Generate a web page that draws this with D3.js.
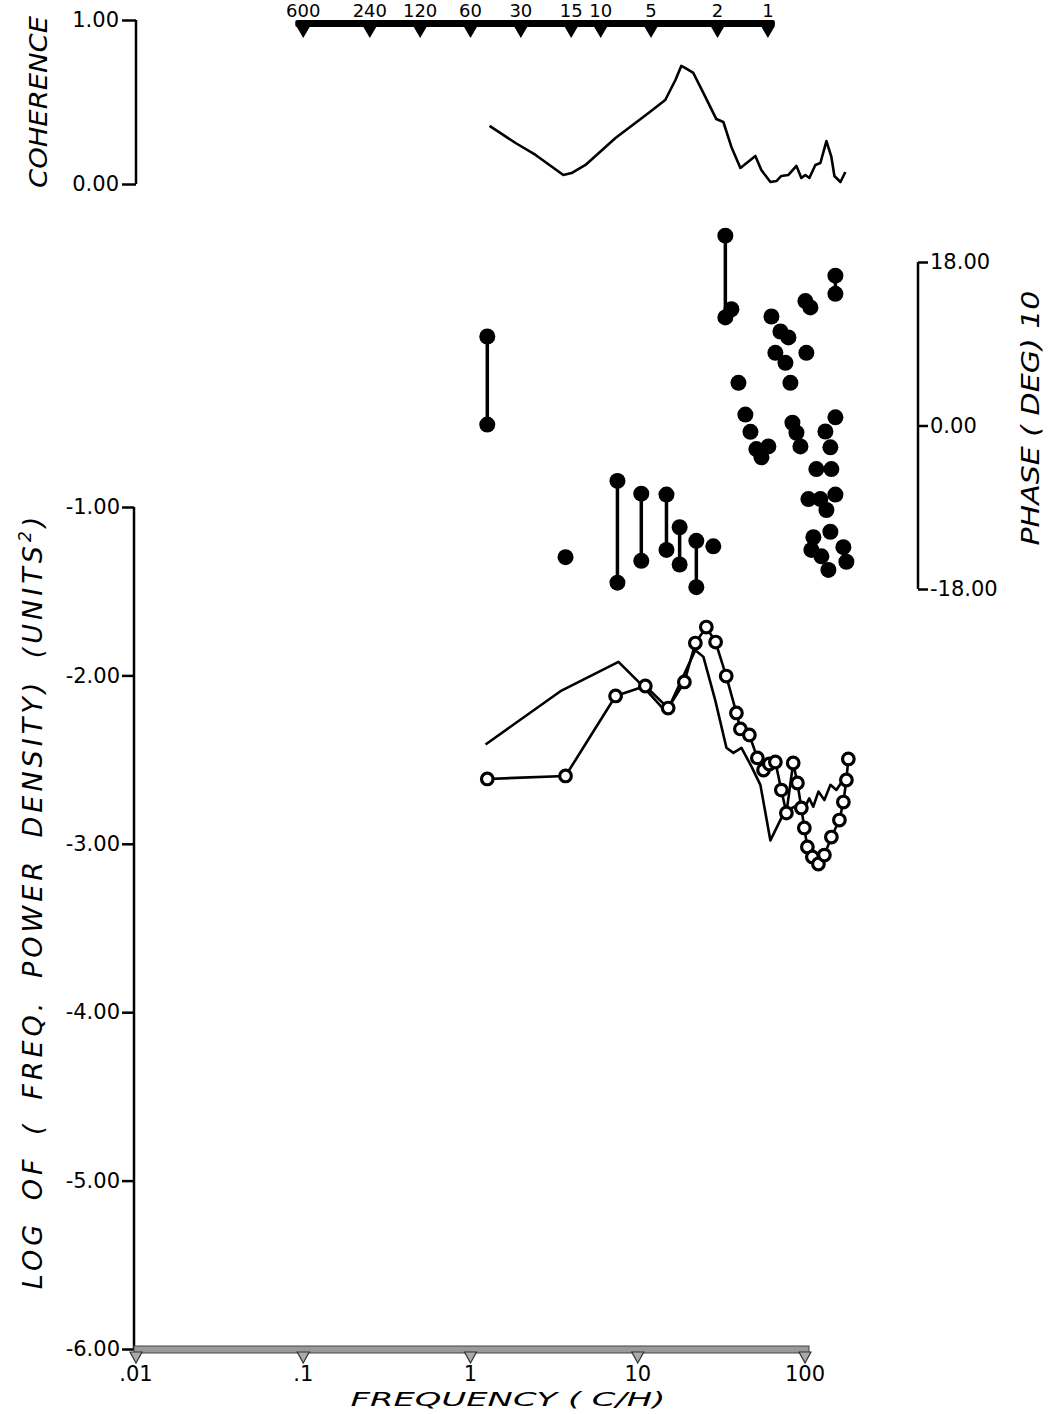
<!DOCTYPE html>
<html>
<head>
<meta charset="utf-8">
<script src="https://cdn.jsdelivr.net/npm/d3@7"></script>
<style>
  body { margin: 0; background: #fff; }
  text { font-family: "DejaVu Sans", sans-serif; fill: #000; }
  .title { font-style: italic; font-size: 25px; }
  .tick-label { font-size: 21px; }
</style>
</head>
<body>
<svg id="chart" width="1049" height="1414"></svg>
<script>
// coherence curve
const cohFreq = [1.30, 1.86, 2.45, 3.59, 4.02, 4.87, 7.36, 11.6, 14.6, 16.8, 18.2, 19.3, 21.5, 25.4, 29.5, 32.5, 36.3, 41.1, 50.5, 54.8, 62.1, 67.5, 72.2, 79.6, 88.9, 95.1, 100.5, 106.2, 115.3, 123.6, 134.3, 143.8, 149.9, 162.9, 174.3];
const cohVal = [0.354, 0.250, 0.177, 0.055, 0.067, 0.116, 0.280, 0.433, 0.512, 0.634, 0.720, 0.707, 0.677, 0.530, 0.396, 0.378, 0.226, 0.098, 0.171, 0.085, 0.012, 0.018, 0.049, 0.055, 0.110, 0.037, 0.055, 0.037, 0.116, 0.128, 0.262, 0.165, 0.049, 0.012, 0.073];

// power spectrum, plain line
const powAFreq = [1.23, 3.50, 7.67, 10.4, 14.85, 18.2, 22.1, 24.7, 29.1, 33.9, 37.3, 41.7, 47.8, 54.1, 62.1, 75.3, 86.4, 99.1, 106.0, 112.0, 120.3, 130.6, 141.8, 154.0, 174.3];
const powAVal = [-2.41, -2.09, -1.92, -2.05, -2.22, -2.03, -1.85, -1.89, -2.15, -2.43, -2.46, -2.43, -2.54, -2.65, -2.98, -2.81, -2.78, -2.79, -2.73, -2.78, -2.69, -2.74, -2.65, -2.68, -2.60];

// power spectrum, line with open circles
const powBFreq = [1.26, 3.70, 7.37, 11.1, 15.2, 19.0, 22.1, 25.7, 29.2, 33.8, 38.9, 41.1, 46.5, 51.9, 56.5, 61.2, 66.5, 72.2, 77.4, 85.0, 90.1, 95.1, 99.1, 103.3, 110.7, 120.3, 130.6, 143.8, 160.6, 169.6, 176.8, 181.6];
const powBVal = [-2.615, -2.597, -2.122, -2.063, -2.194, -2.039, -1.808, -1.713, -1.802, -2.004, -2.223, -2.318, -2.354, -2.490, -2.562, -2.526, -2.514, -2.681, -2.817, -2.520, -2.639, -2.787, -2.906, -3.019, -3.078, -3.120, -3.067, -2.960, -2.859, -2.752, -2.621, -2.496];

// phase: pairs joined by a bar
const pairFreq = [1.26, 7.56, 10.5, 14.85, 17.8, 22.4, 33.4, 152];
const pairHi = [9.8, -6.1, -7.5, -7.6, -11.2, -12.7, 20.9, 16.5];
const pairLo = [0.1, -17.3, -14.9, -13.7, -15.3, -17.8, 11.9, 14.5];

// phase: single dots
const phaseFreq = [3.70, 28.3, 36.3, 40.0, 44.0, 47.2, 51.2, 54.9, 60.4, 63.0, 66.5, 71.3, 76.4, 79.6, 81.8, 84.1, 88.9, 93.9, 100.5, 101.9, 104.8, 107.7, 109.2, 112.2, 116.9, 123.6, 125.3, 132.4, 134.3, 138.0, 141.8, 141.8, 143.8, 152, 152, 169.6, 176.8];
const phaseVal = [-14.5, -13.3, 12.8, 4.7, 1.2, -0.7, -2.6, -3.5, -2.3, 12.0, 8.0, 10.35, 6.9, 9.7, 4.7, 0.3, -0.8, -2.3, 13.7, 8.0, -8.1, 13.0, -13.7, -12.3, -4.8, -8.1, -14.4, -0.66, -9.3, -15.9, -2.4, -11.7, -4.8, 0.9, -7.6, -13.4, -15.0];

// axis ticks
const freqTicks = [0.01, 0.1, 1, 10, 100];
const freqTickLabels = [".01", ".1", "1", "10", "100"];
const periodTicks = [600, 240, 120, 60, 30, 15, 10, 5, 2, 1]; // minutes
const powTicks = [-1, -2, -3, -4, -5, -6];
const cohTicks = [0, 1];
const phaseTicks = [-18, 0, 18];

const svg = d3.select("#chart");

const x = d3.scaleLog().domain([0.01, 100]).range([136, 805]);
const yPow = d3.scaleLinear().domain([-6, -1]).range([1349, 507]);
const yCoh = d3.scaleLinear().domain([0, 1]).range([184, 20]);
const yPh = d3.scaleLinear().domain([-18, 18]).range([589, 262]);

const fmt = d => d.toFixed(2);

function styleAxis(g, from, to) {
  g.select(".domain").attr("stroke-width", 2.5).attr("d", `M0,${from}V${to}`);
  g.selectAll(".tick line").attr("stroke-width", 2.5);
  g.selectAll(".tick text").attr("class", "tick-label").attr("font-size", null).attr("font-family", null);
}

// ---- left power axis
const gPow = svg.append("g").attr("transform", "translate(134,0)")
  .call(d3.axisLeft(yPow).tickValues(powTicks).tickSize(12).tickPadding(2).tickFormat(fmt));
styleAxis(gPow, yPow(-1), yPow(-6));

// ---- coherence axis
const gCoh = svg.append("g").attr("transform", "translate(136,0)")
  .call(d3.axisLeft(yCoh).tickValues(cohTicks).tickSize(14).tickPadding(3).tickFormat(fmt));
styleAxis(gCoh, yCoh(1), yCoh(0));

// ---- phase axis (right)
const gPh = svg.append("g").attr("transform", "translate(918,0)")
  .call(d3.axisRight(yPh).tickValues(phaseTicks).tickSize(10).tickPadding(2).tickFormat(fmt));
styleAxis(gPh, yPh(18), yPh(-18));

// ---- bottom frequency axis (grey band with triangle ticks)
const yBase = 1349;
svg.append("rect")
  .attr("x", 134).attr("y", yBase - 3)
  .attr("width", x(100) + 4 - 134).attr("height", 7)
  .attr("fill", "#9a9a9a").attr("stroke", "#444").attr("stroke-width", 1);
svg.append("g").selectAll("path").data(freqTicks).join("path")
  .attr("d", d => `M${x(d) - 6},${yBase + 3}L${x(d) + 6},${yBase + 3}L${x(d)},${yBase + 14}Z`)
  .attr("fill", "#aaa").attr("stroke", "#333").attr("stroke-width", 1.2);
svg.append("g").selectAll("text").data(freqTicks).join("text")
  .attr("class", "tick-label")
  .attr("x", d => x(d)).attr("y", 1381)
  .attr("text-anchor", "middle")
  .text((d, i) => freqTickLabels[i]);

// ---- top period axis (minutes -> cycles per hour)
const xTopL = x(60 / 600) - 8, xTopR = x(60 / 1) + 7;
svg.append("rect")
  .attr("x", xTopL).attr("y", 20).attr("width", xTopR - xTopL).attr("height", 7)
  .attr("rx", 2).attr("fill", "#000");
svg.append("g").selectAll("path").data(periodTicks).join("path")
  .attr("d", p => { const c = x(60 / p); return `M${c - 7},${26}L${c + 7},${26}L${c},${38}Z`; })
  .attr("fill", "#000");
svg.append("g").selectAll("text").data(periodTicks).join("text")
  .attr("x", p => x(60 / p)).attr("y", 17)
  .attr("text-anchor", "middle")
  .attr("font-size", 18)
  .text(p => p);

// ---- coherence curve
const cohLine = d3.line().x(d => x(d[0])).y(d => yCoh(d[1]));
svg.append("path")
  .datum(d3.zip(cohFreq, cohVal))
  .attr("d", cohLine)
  .attr("fill", "none").attr("stroke", "#000").attr("stroke-width", 2.6)
  .attr("stroke-linejoin", "round");

// ---- power curves
const powLine = d3.line().x(d => x(d[0])).y(d => yPow(d[1]));
svg.append("path")
  .datum(d3.zip(powAFreq, powAVal))
  .attr("d", powLine)
  .attr("fill", "none").attr("stroke", "#000").attr("stroke-width", 2.6)
  .attr("stroke-linejoin", "round");

const powB = d3.zip(powBFreq, powBVal);
svg.append("path")
  .datum(powB)
  .attr("d", powLine)
  .attr("fill", "none").attr("stroke", "#000").attr("stroke-width", 2.6)
  .attr("stroke-linejoin", "round");
svg.append("g").selectAll("circle").data(powB).join("circle")
  .attr("cx", d => x(d[0])).attr("cy", d => yPow(d[1]))
  .attr("r", 5.8)
  .attr("fill", "#fff").attr("stroke", "#000").attr("stroke-width", 3.2);

// ---- phase pairs
const pairs = pairFreq.map((f, i) => ({ f, hi: pairHi[i], lo: pairLo[i] }));
const gPair = svg.append("g");
gPair.selectAll("line").data(pairs).join("line")
  .attr("x1", d => x(d.f)).attr("x2", d => x(d.f))
  .attr("y1", d => yPh(d.hi)).attr("y2", d => yPh(d.lo))
  .attr("stroke", "#000").attr("stroke-width", 3.5);
gPair.selectAll("circle.hi").data(pairs).join("circle")
  .attr("class", "hi")
  .attr("cx", d => x(d.f)).attr("cy", d => yPh(d.hi)).attr("r", 8);
gPair.selectAll("circle.lo").data(pairs).join("circle")
  .attr("class", "lo")
  .attr("cx", d => x(d.f)).attr("cy", d => yPh(d.lo)).attr("r", 8);

// ---- phase single dots
svg.append("g").selectAll("circle").data(d3.zip(phaseFreq, phaseVal)).join("circle")
  .attr("cx", d => x(d[0])).attr("cy", d => yPh(d[1])).attr("r", 8)
  .attr("fill", "#000");

// ---- axis titles
svg.append("text").attr("class", "title")
  .attr("transform", "translate(47,102) rotate(-90)")
  .attr("text-anchor", "middle")
  .attr("textLength", 172).attr("lengthAdjust", "spacingAndGlyphs")
  .text("COHERENCE");

const powTitle = svg.append("text").attr("class", "title")
  .attr("transform", "translate(42,901) rotate(-90)")
  .attr("text-anchor", "middle")
  .style("font-size", "27px")
  .style("letter-spacing", "4px")
  .style("word-spacing", "8px");
powTitle.append("tspan").text("LOG  OF  ( FREQ.   POWER DENSITY)   (UNITS");
powTitle.append("tspan").attr("dy", -11).attr("font-size", 17).text("2");
powTitle.append("tspan").attr("dy", 11).text(")");

svg.append("text").attr("class", "title")
  .attr("transform", "translate(1039,418) rotate(-90)")
  .attr("text-anchor", "middle")
  .attr("textLength", 255).attr("lengthAdjust", "spacingAndGlyphs")
  .text("PHASE  ( DEG)  10");

svg.append("text").attr("class", "title")
  .attr("x", 508).attr("y", 1406)
  .attr("text-anchor", "middle")
  .style("font-size", "20px")
  .attr("textLength", 315).attr("lengthAdjust", "spacingAndGlyphs")
  .text("FREQUENCY  ( C/H)");
</script>
</body>
</html>
